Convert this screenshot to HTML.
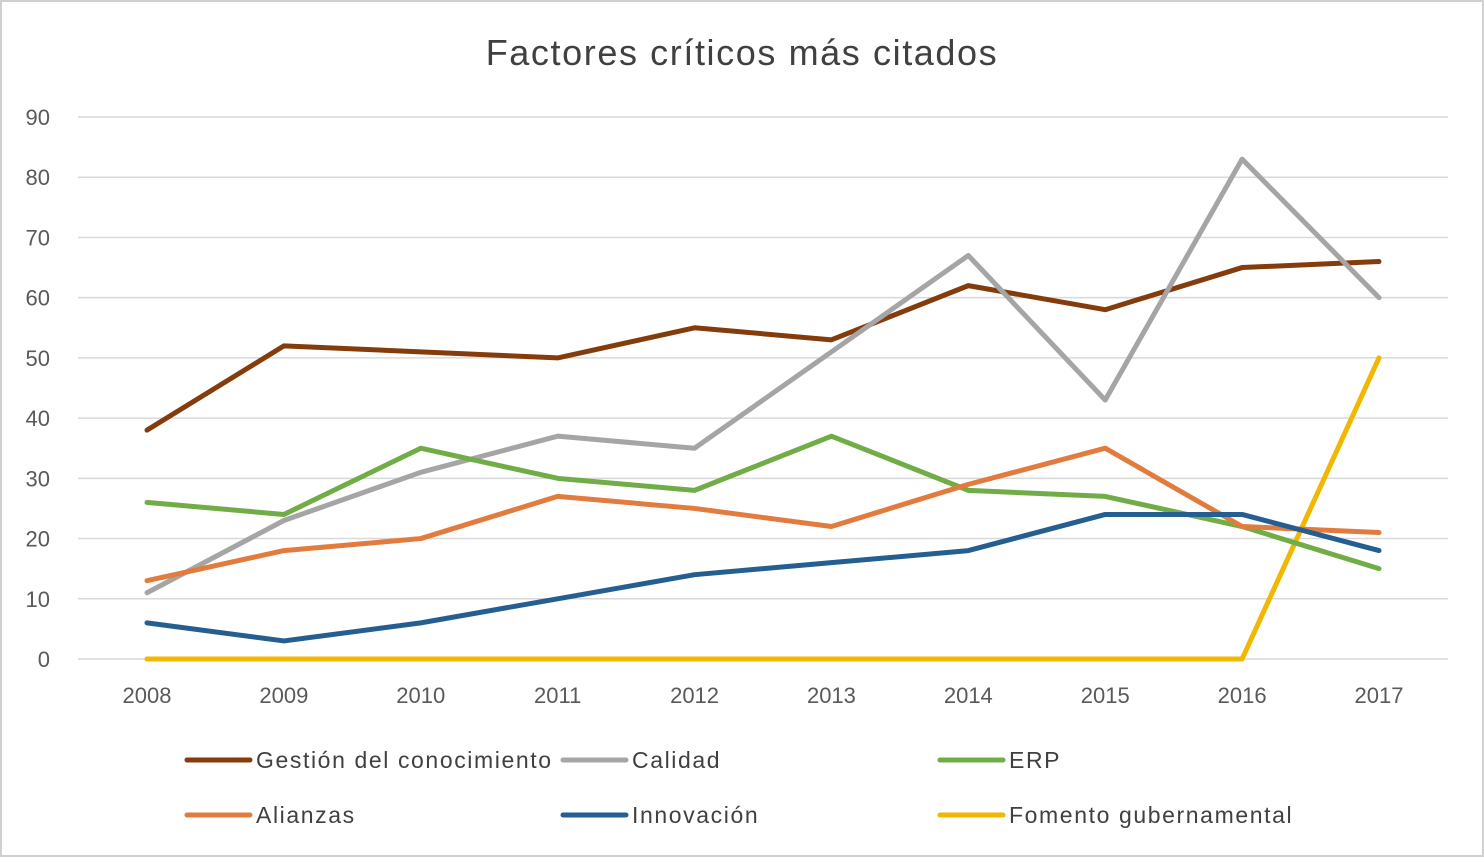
<!DOCTYPE html>
<html><head><meta charset="utf-8"><style>
body{margin:0;background:#fff;}
svg{display:block;font-family:"Liberation Sans",sans-serif;}
</style></head><body>
<svg id="chart" width="1484" height="857">
<rect x="1" y="1" width="1482" height="855" fill="#fff" stroke="#d0d0d0" stroke-width="2"/>
<text x="742" y="65" text-anchor="middle" font-size="36" letter-spacing="1.6" fill="#404040">Factores críticos más citados</text>
<g id="grid"></g><g id="lines"></g><g id="legend"></g>
</svg>
<script>
const years=["2008","2009","2010","2011","2012","2013","2014","2015","2016","2017"];
const yTicks=[0,10,20,30,40,50,60,70,80,90];
const gestion=[38,52,51,50,55,53,62,58,65,66];
const calidad=[11,23,31,37,35,51,67,43,83,60];
const erp=[26,24,35,30,28,37,28,27,22,15];
const alianzas=[13,18,20,27,25,22,29,35,22,21];
const innovacion=[6,3,6,10,14,16,18,24,24,18];
const fomento=[0,0,0,0,0,0,0,0,0,50];
const seriesNames=["Gestión del conocimiento","Calidad","ERP","Alianzas","Innovación","Fomento gubernamental"];
const NS="http://www.w3.org/2000/svg";
function X(i){return 147+i*(1379-147)/9;}
function Y(v){return 659-v*(659-117)/90;}
function mk(t,a,p){const e=document.createElementNS(NS,t);for(const k in a)e.setAttribute(k,a[k]);p.appendChild(e);return e;}
const grid=document.getElementById('grid');
yTicks.forEach(v=>{
 const l=mk('line',{x1:78,x2:1448,y1:Y(v),y2:Y(v),stroke:'#d9d9d9','stroke-width':1.5},grid);
 
 
 const t=mk('text',{x:50,y:Y(v)+8,'text-anchor':'end','font-size':22,fill:'#595959'},grid);
 t.textContent=v;
 
 
});
years.forEach((y,i)=>{
 const t=mk('text',{x:X(i),y:703,'text-anchor':'middle','font-size':22,fill:'#595959'},grid);
 t.textContent=y;
 
 
});
const data=[gestion,calidad,erp,alianzas,innovacion,fomento];
const colors=["#843C0C","#A5A5A5","#70AD47","#E27C3E","#255E91","#F2B700"];
const slugs=["gestion","calidad","erp","alianzas","innovacion","fomento"];
const lines=document.getElementById('lines');
[5,0,1,2,3,4].forEach(s=>{
 const pts=data[s].map((v,i)=>X(i)+','+Y(v)).join(' ');
 const p=mk('polyline',{points:pts,fill:'none',stroke:colors[s],'stroke-width':5,'stroke-linejoin':'round','stroke-linecap':'round'},lines);
 
 
});
const leg=document.getElementById('legend');
const lx=[187,563,940],ly=[760,815];
seriesNames.forEach((n,s)=>{
 const x=lx[s%3],y=ly[Math.floor(s/3)];
 const g=mk('g',{},leg);
 
 
 mk('line',{x1:x,x2:x+63,y1:y,y2:y,stroke:colors[s],'stroke-width':5,'stroke-linecap':'round'},g);
 const t=mk('text',{x:x+69,y:y+8,'font-size':23,'letter-spacing':1.6,fill:'#404040'},g);
 t.textContent=n;
});
</script>
</body></html>
